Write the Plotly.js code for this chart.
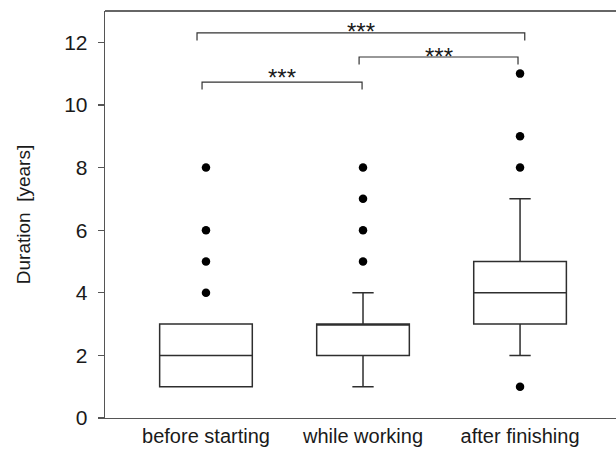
<!DOCTYPE html>
<html>
<head>
<meta charset="utf-8">
<script src="https://cdn.plot.ly/plotly-3.0.1.min.js"></script>
<style>html,body{margin:0;padding:0;background:#fff;overflow:hidden;}#chart{width:616px;height:457px;}</style>
</head>
<body>
<div id="chart"></div>
<script>
// Categories and box statistics (years)
var categories = ["before starting", "while working", "after finishing"];
var catPos = [0, 1, 2];
var q1 = [1, 2, 3];
var median = [2, 3, 4];
var q3 = [3, 3, 5];
var lowerFence = [1, 1, 2];
var upperFence = [3, 4, 7];

// Outliers per category
var outlierCat = [0, 0, 0, 0, 1, 1, 1, 1, 2, 2, 2, 2];
var outlierVal = [4, 5, 6, 8, 5, 6, 7, 8, 1, 8, 9, 11];

// Significance brackets
var bracketFrom = [-0.025, 0.975, -0.057];
var bracketTo = [0.994, 1.987, 2.03];
var bracketLevel = [10.73, 11.53, 12.3];
var bracketLabel = ["***", "***", "***"];
var labelLevel = [11.02, 11.72, 12.52];

var yTicks = [0, 2, 4, 6, 8, 10, 12];

var lineCol = "#2e2e2e";
var axisCol = "#555555";
var txtCol = "#1a1a1a";
var fontFam = "Liberation Sans, Arial, sans-serif";

var traces = [
  {
    type: "box",
    x: catPos,
    q1: q1, median: median, q3: q3,
    lowerfence: lowerFence, upperfence: upperFence,
    width: 0.59,
    whiskerwidth: 0.23,
    boxpoints: false,
    fillcolor: "#ffffff",
    line: {color: lineCol, width: 1.5},
    hoverinfo: "skip",
    showlegend: false
  },
  {
    type: "scatter",
    mode: "markers",
    x: outlierCat,
    y: outlierVal,
    marker: {color: "#000000", size: 8.5},
    hoverinfo: "skip",
    showlegend: false
  }
];

var shapes = [
  {type: "line", xref: "paper", yref: "paper", x0: 0, x1: 1, y0: 1, y1: 1,
   line: {color: "#333333", width: 1.4}}
];
var annotations = [];
var leg = 0.24;
for (var i = 0; i < bracketLevel.length; i++) {
  var yb = bracketLevel[i];
  shapes.push({
    type: "path",
    xref: "x", yref: "y",
    path: "M " + bracketFrom[i] + " " + (yb - leg) + " L " + bracketFrom[i] + " " + yb +
          " L " + bracketTo[i] + " " + yb + " L " + bracketTo[i] + " " + (yb - leg),
    fillcolor: "rgba(0,0,0,0)",
    line: {color: "#333333", width: 1.2}
  });
  annotations.push({
    xref: "x", yref: "y",
    x: (bracketFrom[i] + bracketTo[i]) / 2,
    y: labelLevel[i],
    yanchor: "middle",
    yshift: -5,
    text: bracketLabel[i],
    showarrow: false,
    font: {family: fontFam, size: 24, color: txtCol}
  });
}

var layout = {
  width: 616, height: 457,
  margin: {l: 105, r: 0, t: 11, b: 39},
  paper_bgcolor: "#ffffff",
  plot_bgcolor: "#ffffff",
  font: {family: fontFam, color: txtCol},
  xaxis: {
    range: [-0.643, 2.611],
    tickvals: catPos,
    ticktext: categories,
    ticks: "",
    showgrid: false,
    zeroline: false,
    showline: true,
    linecolor: axisCol,
    linewidth: 1.3,
    tickfont: {family: fontFam, size: 20, color: txtCol},
    fixedrange: true
  },
  yaxis: {
    range: [0, 13],
    tickvals: yTicks,
    ticktext: yTicks.map(String),
    ticks: "outside",
    ticklen: 6,
    tickcolor: axisCol,
    tickwidth: 1.2,
    ticklabelstandoff: 6,
    showgrid: false,
    zeroline: false,
    showline: true,
    linecolor: axisCol,
    linewidth: 1.3,
    tickfont: {family: fontFam, size: 21, color: txtCol},
    title: {text: "Duration\u00a0 [years]", font: {family: fontFam, size: 19, color: txtCol}, standoff: 28},
    fixedrange: true
  },
  shapes: shapes,
  annotations: annotations
};

Plotly.newPlot("chart", traces, layout, {displayModeBar: false, staticPlot: true});
</script>
</body>
</html>
